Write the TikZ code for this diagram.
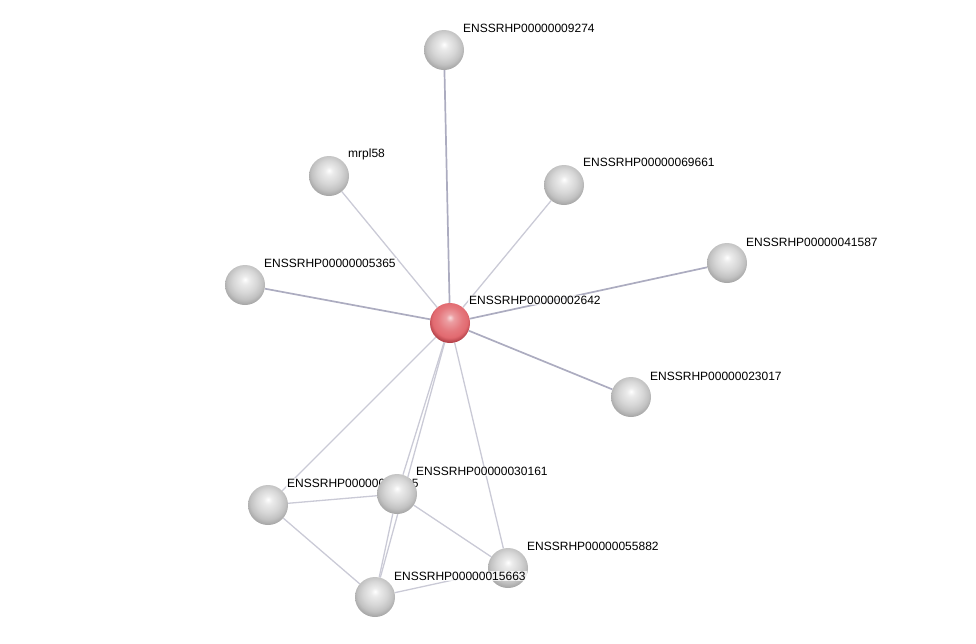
\documentclass[tikz,border=0pt]{standalone}
\usepackage{fontspec}
\setmainfont{Liberation Sans}
\usetikzlibrary{calc}
\definecolor{edgelight}{RGB}{202,202,214}
\definecolor{edgedark}{RGB}{172,172,192}
\definecolor{redmid}{RGB}{226,106,112}
\definecolor{reddark}{RGB}{172,58,66}
\pgfdeclareradialshading{grayball}{\pgfpoint{0bp}{7bp}}{%
  color(0bp)=(white); color(5bp)=(white!85!gray); color(15bp)=(white!68!gray);
  color(22bp)=(white!52!gray); color(28bp)=(white!28!gray); color(33bp)=(white!10!gray);
  color(50bp)=(white!10!gray)}
\pgfdeclareradialshading{redball}{\pgfpoint{0bp}{7bp}}{%
  color(0bp)=(white!75!redmid); color(5bp)=(white!35!redmid); color(15bp)=(white!10!redmid);
  color(22bp)=(redmid); color(28bp)=(reddark); color(33bp)=(reddark!75!black);
  color(50bp)=(reddark!75!black)}
\pgfdeclarelayer{background}
\pgfsetlayers{background,main}

\begin{document}
\begin{tikzpicture}[x=1pt, y=-1pt,
    prot/.style={circle, minimum size=40pt, inner sep=0pt, shading=grayball},
    query/.style={prot, shading=redball},
    tag/.style={anchor=west, inner sep=1pt, fill=white, fill opacity=0.75, text opacity=1,
                font=\fontsize{12}{14}\selectfont},
    link/.style={edgelight, line width=1.3pt},
    strong/.style={edgedark, line width=1.7pt}]
  \useasboundingbox (0,0) rectangle (976,643);
  % star around the query protein
  \node[query] (p2642) at (450,323) {};
  \node[tag] (t2642) at ($(p2642)+(18,-23)$) {ENSSRHP00000002642};
  \node[prot] (p9274) at (444,50) {};
  \node[tag] (t9274) at ($(p9274)+(18,-22)$) {ENSSRHP00000009274};
  \node[prot] (mrpl) at (329,176) {};
  \node[tag] (tmrpl) at ($(mrpl)+(18,-22)$) {mrpl58};
  \node[prot] (p9661) at (564,185) {};
  \node[tag] (t9661) at ($(p9661)+(18,-23)$) {ENSSRHP00000069661};
  \node[prot] (p1587) at (727,263) {};
  \node[tag] (t1587) at ($(p1587)+(18,-21)$) {ENSSRHP00000041587};
  \node[prot] (p5365) at (245,285) {};
  \node[tag] (t5365) at ($(p5365)+(18,-22)$) {ENSSRHP00000005365};
  \node[prot] (p3017) at (631,397) {};
  \node[tag] (t3017) at ($(p3017)+(18,-21)$) {ENSSRHP00000023017};
  % lower cluster
  \node[prot] (phid) at (268,505) {};
  \node[tag] (thid) at ($(phid)+(18,-22)$) {ENSSRHP00000024025};
  \node[prot] (p0161) at (397,494) {};
  \node[tag] (t0161) at ($(p0161)+(18,-23)$) {ENSSRHP00000030161};
  \node[prot] (p5882) at (508,568) {};
  \node[tag] (t5882) at ($(p5882)+(18,-22)$) {ENSSRHP00000055882};
  \node[prot] (p5663) at (375,597) {};
  \node[tag] (t5663) at ($(p5663)+(18,-21)$) {ENSSRHP00000015663};
  \begin{pgfonlayer}{background}
    \path (p2642) edge[strong] (p9274)
                  edge[link] (mrpl)
                  edge[link] (p9661)
                  edge[strong] (p1587)
                  edge[strong] (p5365)
                  edge[strong] (p3017)
                  edge[link] (phid)
                  edge[link] (p0161)
                  edge[link] (p5663)
                  edge[link] (p5882);
    \path (phid) edge[link] (p0161)
                 edge[link] (p5663)
          (p0161) edge[link] (p5663)
                  edge[link] (p5882)
          (p5663) edge[link] (p5882);
  \end{pgfonlayer}
\end{tikzpicture}
\end{document}
